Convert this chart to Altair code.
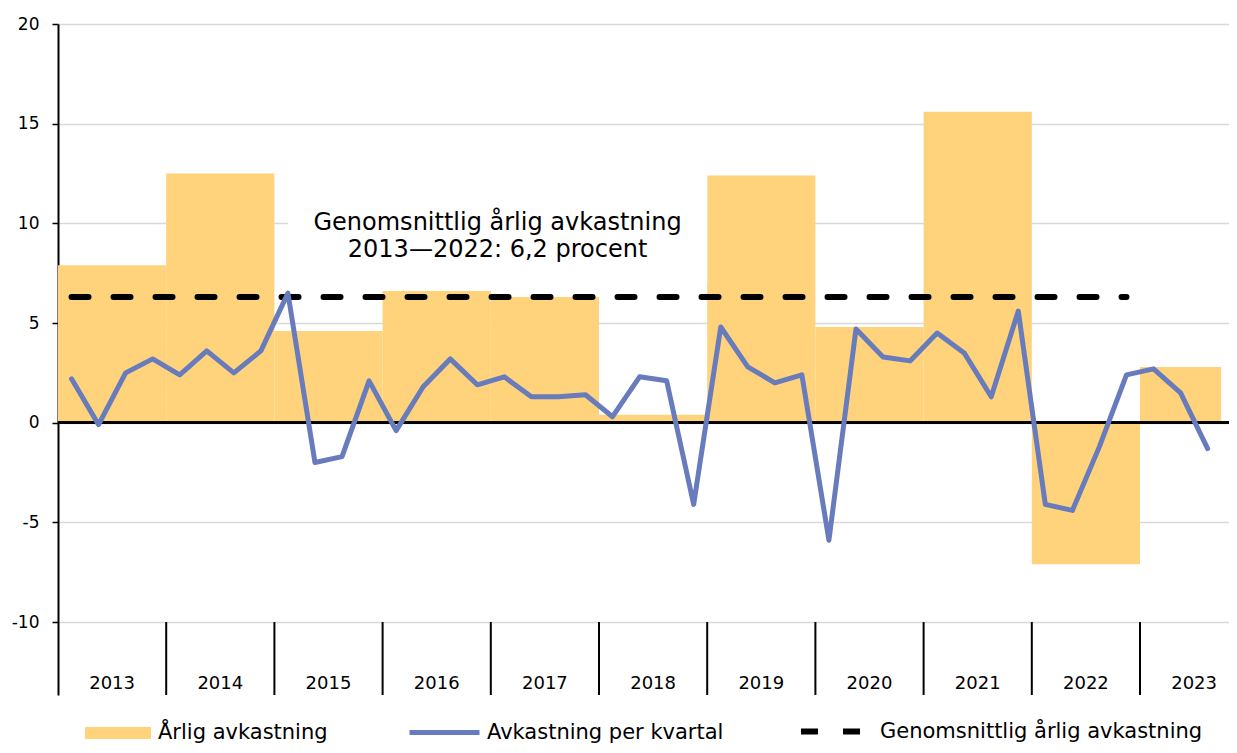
import altair as alt
import pandas as pd

# ---------------- data ----------------
years = [2013, 2014, 2015, 2016, 2017, 2018, 2019, 2020, 2021, 2022, 2023]
annual_return = [7.9, 12.5, 4.6, 6.6, 6.3, 0.4, 12.4, 4.8, 15.6, -7.1, 2.8]
quarters_in_year = [4, 4, 4, 4, 4, 4, 4, 4, 4, 4, 3]
quarterly_return = [
    2.2, -0.1, 2.5, 3.2,
    2.4, 3.6, 2.5, 3.6,
    6.5, -2.0, -1.7, 2.1,
    -0.4, 1.8, 3.2, 1.9,
    2.3, 1.3, 1.3, 1.4,
    0.3, 2.3, 2.1, -4.1,
    4.8, 2.8, 2.0, 2.4,
    -5.9, 4.7, 3.3, 3.1,
    4.5, 3.5, 1.3, 5.6,
    -4.1, -4.4, -1.2, 2.4,
    2.7, 1.5, -1.3,
]
average_return = 6.3
average_years = [2013, 2022]
annotation_lines = ["Genomsnittlig årlig avkastning", "2013\u20142022: 6,2 procent"]
y_ticks = [-10, -5, 0, 5, 10, 15, 20]

series_bar = "Årlig avkastning"
series_line = "Avkastning per kvartal"
series_avg = "Genomsnittlig årlig avkastning"

# ---------------- layout constants ----------------
FONT = "DejaVu Sans"
BAR_COLOR = "#FED37B"
LINE_COLOR = "#687BBC"
GRID_COLOR = "#D9D9D9"
PLOT_W, PLOT_H = 1171, 671
X_MAX = 43.29           # quarters visible in the plot area
Y_MIN, Y_MAX = -13.66, 20
YEAR_LABEL_Y = -13.1
LEG_SHIFT = 3

# ---------------- tables ----------------
starts = []
s = 0
for n in quarters_in_year:
    starts.append(s)
    s += n

bars = pd.DataFrame({
    "year": years,
    "value": annual_return,
    "start": starts,
    "end": [a + n for a, n in zip(starts, quarters_in_year)],
    "series": series_bar,
})
bars["mid"] = bars["start"] + 2

quarters = pd.DataFrame({
    "pos": [i + 0.5 for i in range(len(quarterly_return))],
    "value": quarterly_return,
    "series": series_line,
})

avg_start = starts[years.index(average_years[0])] + 0.5
avg_end = starts[years.index(average_years[1])] + quarters_in_year[years.index(average_years[1])] - 0.5
avg = pd.DataFrame({"x": [avg_start], "x2": [avg_end], "y": [average_return], "series": [series_avg]})

separators = pd.DataFrame({"x": starts[1:]})

ann_center = 16.25
ann = pd.DataFrame({"text": annotation_lines, "x": [ann_center, ann_center], "y": [9.67, 8.31]})
ann_box = pd.DataFrame({"x": [8.5], "x2": [24.0], "y": [7.0], "y2": [13.0]})

xscale = alt.Scale(domain=[0, X_MAX], nice=False, zero=False)
yscale = alt.Scale(domain=[Y_MIN, Y_MAX], nice=False, zero=False)

yaxis = alt.Axis(
    values=y_ticks, title=None, grid=True, gridColor=GRID_COLOR, gridWidth=1.5,
    domainColor="black", domainWidth=2, tickColor="black", tickWidth=1.5, tickSize=6,
    labelFont=FONT, labelFontSize=17, labelColor="black", labelPadding=13,
    labelExpr="datum.value < 0 ? '-' + abs(datum.value) : '' + datum.value",
)

LEG = dict(title=None, orient="none", labelFont=FONT, labelFontSize=21,
           labelColor="black", labelLimit=500, padding=0)

bar_layer = alt.Chart(bars).mark_rect().encode(
    x=alt.X("start:Q", scale=xscale, axis=None),
    x2="end:Q",
    y=alt.Y("value:Q", scale=yscale, axis=yaxis),
    y2=alt.datum(0),
    color=alt.Color(
        "series:N",
        scale=alt.Scale(domain=[series_bar], range=[BAR_COLOR]),
        legend=alt.Legend(
            legendX=27, legendY=673 + LEG_SHIFT,
            symbolType="M-1,-0.18H1V0.18H-1Z", symbolSize=4356,
            symbolStrokeWidth=0, symbolOpacity=1, symbolFillColor=BAR_COLOR,
            labelOffset=7, **LEG,
        ),
    ),
)

box_layer = alt.Chart(ann_box).mark_rect(color="white").encode(
    x=alt.X("x:Q", scale=xscale, axis=None), x2="x2:Q",
    y=alt.Y("y:Q", scale=yscale), y2="y2:Q",
)

zero_layer = alt.Chart(bars).mark_rule(color="black", strokeWidth=2).encode(
    y=alt.datum(0, scale=yscale),
)

sep_layer = alt.Chart(separators).mark_rule(color="black", strokeWidth=2).encode(
    x=alt.X("x:Q", scale=xscale, axis=None),
    y=alt.datum(-10),
    y2=alt.datum(Y_MIN),
)

year_layer = alt.Chart(bars).mark_text(
    font=FONT, fontSize=18, color="black", baseline="middle", align="center"
).encode(
    x=alt.X("mid:Q", scale=xscale, axis=None),
    y=alt.datum(YEAR_LABEL_Y),
    text="year:N",
)

avg_layer = alt.Chart(avg).mark_rule(color="black", strokeWidth=6, strokeCap="round").encode(
    x=alt.X("x:Q", scale=xscale, axis=None),
    x2="x2:Q",
    y=alt.Y("y:Q", scale=yscale),
    strokeDash=alt.StrokeDash(
        "series:N",
        scale=alt.Scale(domain=[series_avg], range=[[17, 25]]),
        legend=alt.Legend(
            legendX=740, legendY=669 + LEG_SHIFT,
            symbolType="stroke", symbolSize=4225, symbolStrokeWidth=6,
            symbolStrokeColor="black", symbolDash=[18, 24],
            labelOffset=11, **LEG,
        ),
    ),
)

line_layer = alt.Chart(quarters).mark_line(
    strokeWidth=5, strokeJoin="round", strokeCap="round"
).encode(
    x=alt.X("pos:Q", scale=xscale, axis=None),
    y=alt.Y("value:Q", scale=yscale),
    stroke=alt.Stroke(
        "series:N",
        scale=alt.Scale(domain=[series_line], range=[LINE_COLOR]),
        legend=alt.Legend(
            legendX=349, legendY=668 + LEG_SHIFT,
            symbolType="stroke", symbolSize=4900, symbolStrokeWidth=5,
            labelOffset=5, **LEG,
        ),
    ),
)

ann_layer = alt.Chart(ann).mark_text(
    font=FONT, fontSize=24, color="black", baseline="alphabetic", align="center"
).encode(
    x=alt.X("x:Q", scale=xscale, axis=None),
    y=alt.Y("y:Q", scale=yscale),
    text="text:N",
)

chart = alt.layer(
    bar_layer, box_layer, zero_layer, sep_layer, year_layer,
    avg_layer, line_layer, ann_layer,
).resolve_scale(
    color="independent", stroke="independent", strokeDash="independent"
).properties(
    width=PLOT_W, height=PLOT_H,
    autosize=alt.AutoSizeParams(type="none"),
    padding={"left": 50, "top": 16, "right": 0, "bottom": 50},
    background="white",
).configure_view(stroke=None)

chart.save("out.html", embed_options={"renderer": "svg", "actions": False})
